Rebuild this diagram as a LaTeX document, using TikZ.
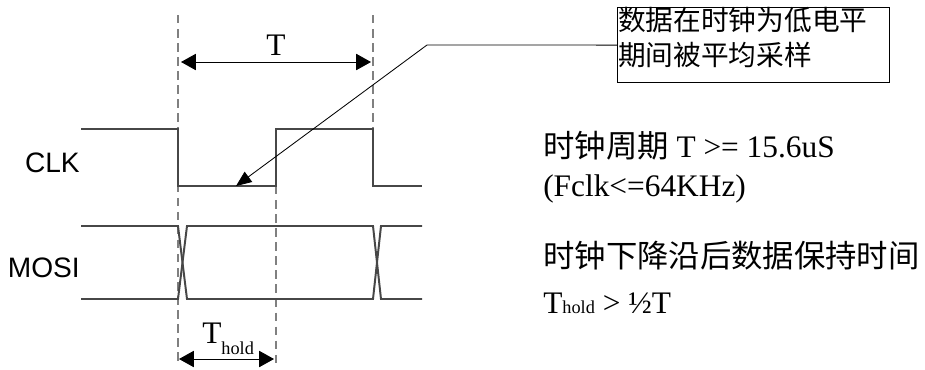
\documentclass[tikz,border=0pt]{standalone}
\usepackage{fontspec}
\setmainfont{Liberation Serif}
\newfontfamily\cjk{Noto Sans CJK SC}
\newfontfamily\arial{Liberation Sans}
\usetikzlibrary{arrows.meta}

\tikzset{
	wave/.style={line width=1.4pt, color=black!72, line join=miter},
	guide/.style={line width=1pt, color=black!50, dash pattern=on 6pt off 4pt},
	span/.style={line width=0.7pt, {Triangle[length=10.5pt,width=11.5pt]}-{Triangle[length=10.5pt,width=11.5pt]}},
	callout/.style={line width=0.6pt, -{Triangle[length=11pt,width=9pt]}},
	siglabel/.style={font=\arial\fontsize{20}{20}\selectfont, inner sep=0pt, anchor=base east},
	notebox/.style={draw, line width=0.6pt, inner xsep=0.5pt, inner ysep=0pt, text width=6.76cm, align=left, anchor=north west, font=\cjk\fontsize{19.7}{25}\selectfont},
	spec/.style={inner sep=0pt, anchor=base west, font=\fontsize{22.3}{22.3}\selectfont}
}

\begin{document}
\begin{tikzpicture}[x=0.025cm, y=-0.025cm]
	%%%%% START %%%%%
	\useasboundingbox (0,0) rectangle (925,369);
	
	% dashed guides
	\draw[guide] (178,15) -- (178,365);
	\draw[guide] (373,15) -- (373,129);
	\draw[guide] (276,186) -- (276,365);
	
	% clock
	\draw[wave] (81,129) -- (178,129) -- (178,186) -- (276,186) -- (276,129) -- (373,129) -- (373,186) -- (422,186);
	
	% data
	\draw[wave] (81,226) -- (178,226) -- (187,299) -- (373,299) -- (381,226) -- (422,226);
	\draw[wave] (81,299) -- (178,299) -- (187,226) -- (373,226) -- (381,299) -- (422,299);
	
	\node[siglabel] (clk) at (80,172) {CLK};
	\node[siglabel] (mosi) at (80,277) {MOSI};
	
	% period
	\coordinate (tleft) at (181,62);
	\coordinate (tright) at (371,62);
	\draw[span] (tleft) -- (tright);
	\node[inner sep=0pt, anchor=base, font=\fontsize{22.3}{22.3}\selectfont] (tlabel) at (276,55) {T};
	
	% hold time
	\coordinate (hleft) at (179,359);
	\coordinate (hright) at (274,359);
	\draw[span] (hleft) -- (hright);
	\node[inner sep=0pt, anchor=base west, font=\fontsize{22.3}{22.3}\selectfont] (hlabel) at (202,343) {T{\fontsize{13}{13}\selectfont\raisebox{-8.5pt}{hold}}};
	
	% note and its pointer
	\node[notebox] (note) at (617,7) {数据在时钟为低电平\\期间被平均采样\rule[-12pt]{0pt}{12pt}};
	\coordinate (bend) at (427,45);
	\coordinate (sample) at (236,186);
	\draw[callout] (note.west) -- (bend) -- (sample);
	
	% specs
	\node[spec] (period) at (543,157) {{\cjk 时钟周期} T >= 15.6uS};
	\node[spec] (freq) at (543,196) {(Fclk<=64KHz)};
	\node[spec] (holdtxt) at (543,267) {\cjk 时钟下降沿后数据保持时间};
	\node[spec] (holdeq) at (543,313) {T{\fontsize{13}{13}\selectfont hold} > ½T};
	
	%%%%% END %%%%%
\end{tikzpicture}
\end{document}
